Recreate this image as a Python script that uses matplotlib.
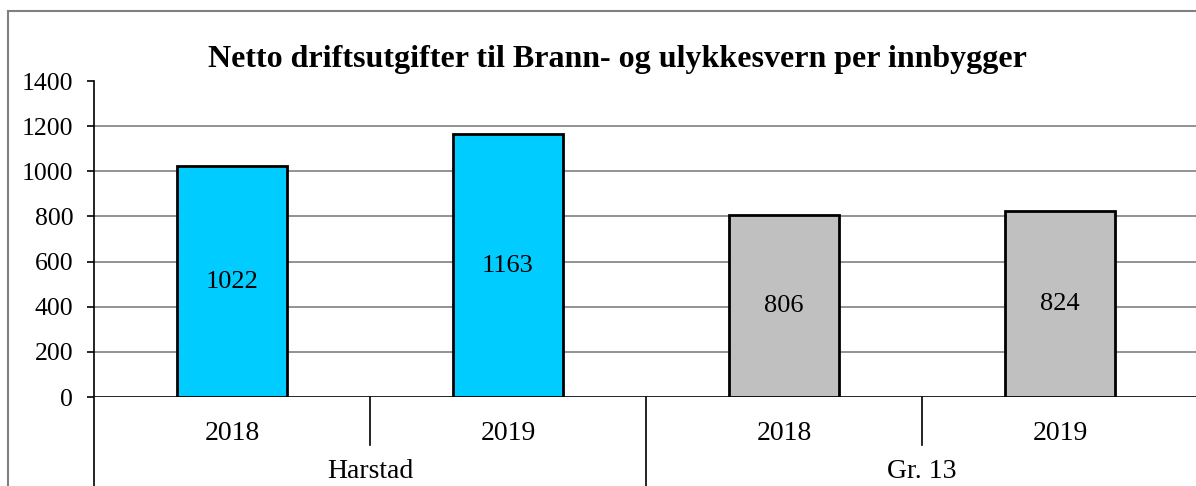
import matplotlib.pyplot as plt
from matplotlib.lines import Line2D

plt.rcParams['font.family'] = ['Liberation Serif', 'DejaVu Serif']

# data
groups = ['Harstad', 'Gr. 13']
years = ['2018', '2019', '2018', '2019']
values = [1022, 1163, 806, 824]
colors = ['#00CCFF', '#00CCFF', '#C0C0C0', '#C0C0C0']
title = 'Netto driftsutgifter til Brann- og ulykkesvern per innbygger'

W, H = 1196, 486
fig = plt.figure(figsize=(W / 100, H / 100), dpi=100)
ax = fig.add_axes([94 / W, 89 / H, 1104 / W, 316 / H])

x = [i + 0.5 for i in range(len(values))]
ax.bar(x, values, width=0.4, color=colors, edgecolor='black', linewidth=2, zorder=3)
for xi, v in zip(x, values):
    ax.text(xi, v / 2, str(v), ha='center', va='center', fontsize=19, zorder=4)

ax.set_xlim(0, len(values))
ax.set_ylim(0, 1400)
ax.set_yticks(range(0, 1401, 200))
ax.tick_params(axis='y', direction='out', length=5, width=1.2, labelsize=18.5, pad=10)
ax.set_xticks(x)
ax.set_xticklabels(years, fontsize=20)
ax.tick_params(axis='x', length=0, pad=17)

for s in ax.spines.values():
    s.set_visible(False)

# horizontal grid (no line at the top value)
for yv in range(200, 1400, 200):
    ax.axhline(yv, color='#808080', linewidth=1.2, zorder=1)
ax.axhline(0, color='black', linewidth=1.2, zorder=2)

# vertical axis line and category separators
xt = ax.get_xaxis_transform()
bottom = -89 / 316
ax.add_line(Line2D([0, 0], [bottom, 1], transform=xt, color='black', lw=1.2, clip_on=False))
for xs in [1, 3]:
    ax.add_line(Line2D([xs, xs], [0, -48 / 316], transform=xt, color='black', lw=1.2, clip_on=False))
ax.add_line(Line2D([2, 2], [bottom, 0], transform=xt, color='black', lw=1.2, clip_on=False))

# group labels
for gi, g in enumerate(groups):
    ax.text(2 * gi + 1, -87 / 316, g, transform=xt, ha='center', va='bottom',
            fontsize=20, clip_on=False)

fig.text(617 / W, 1 - 60 / H, title, ha='center', va='center', fontsize=23, fontweight='bold')

# outer chart frame
fig.add_artist(Line2D([8 / W, 8 / W], [0, 1 - 11 / H], transform=fig.transFigure, color='#808080', lw=1.5))
fig.add_artist(Line2D([8 / W, 1], [1 - 11 / H, 1 - 11 / H], transform=fig.transFigure, color='#808080', lw=1.5))

fig.savefig('out.png', dpi=100)
